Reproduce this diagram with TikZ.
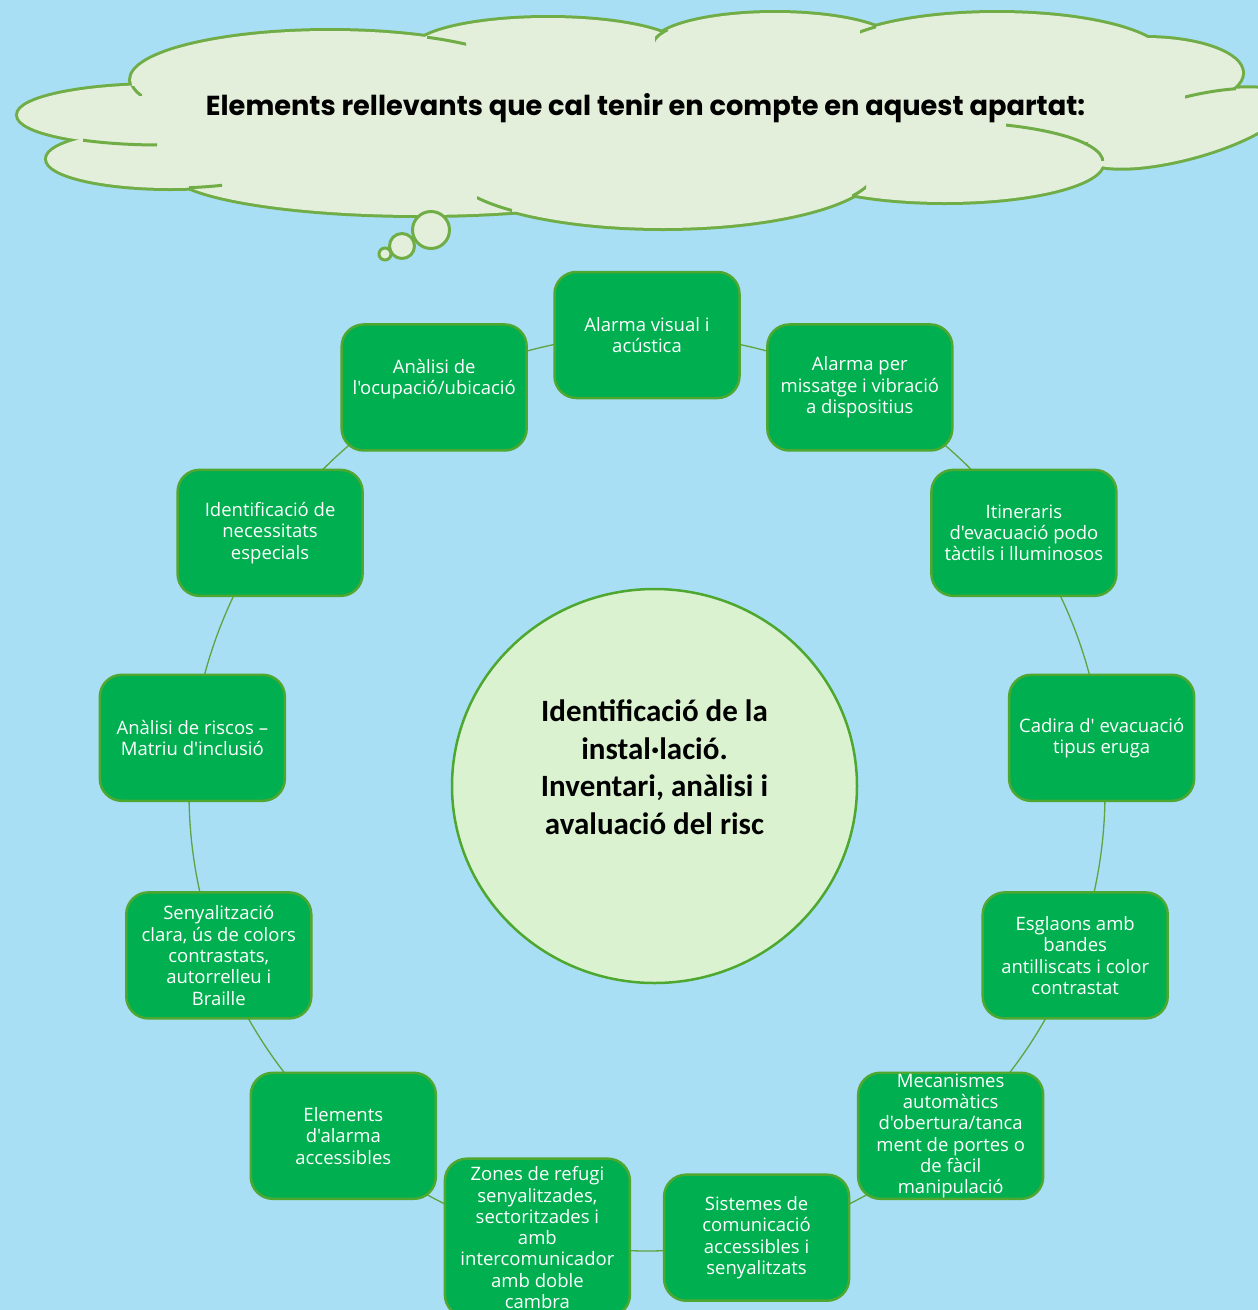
\documentclass[tikz,border=0pt]{standalone}
\usepackage{fontspec}
\usepackage{graphicx}
\newfontfamily\boxfont{Open Sans}
\newfontfamily\hubfont{Carlito}
\newfontfamily\titlefont{Poppins}
\usetikzlibrary{shapes.geometric}

\definecolor{skyblue}{RGB}{168,223,244}
\definecolor{boxgreen}{RGB}{0,176,80}
\definecolor{boxedge}{RGB}{78,167,46}
\definecolor{ringgreen}{RGB}{96,163,66}
\definecolor{hubfill}{RGB}{218,242,208}
\definecolor{cloudfill}{RGB}{227,239,218}
\definecolor{cloudedge}{RGB}{112,173,71}

\pgfdeclarelayer{sky}
\pgfdeclarelayer{arcs}
\pgfsetlayers{sky,arcs,main}

\tikzset{
  itembox/.style={draw=boxedge, line width=2.5pt, fill=boxgreen, rounded corners=22pt,
    minimum width=185pt, minimum height=126pt, inner xsep=3pt, inner ysep=0pt,
    align=center, text=white, font=\boxfont\fontsize{18.5}{21.3}\selectfont},
  ring/.style={draw=ringgreen, line width=1.3pt},
  hub/.style={ellipse, draw=boxedge, line width=2.5pt, fill=hubfill,
    minimum width=405pt, minimum height=394pt, inner sep=0pt, align=center,
    font=\hubfont\bfseries\fontsize{31}{37.7}\selectfont},
  cloudline/.style={draw=cloudedge, line width=3pt}
}

\def\lobes{330/80/199/49/0, 160/115/142/30/0, 170/159/123/29/0, 420/170/250/45/0,
  663/168/214/60/0, 945/162/158/40/0, 1185/128/105/30/15, 1145/73/97/35/0,
  997/58/168/45/0, 775/45/122/32/0, 548/50/135/32/0}

\begin{document}
\begin{tikzpicture}[x=1pt,y=1pt]
\useasboundingbox (0,0) rectangle (1258,-1310);
\begin{pgfonlayer}{sky}
\fill[skyblue] (0,0) rectangle (1258,-1310);
\end{pgfonlayer}

% cloud: outline twice as wide, then filled over
\foreach \cx/\cy/\rx/\ry/\rot in \lobes
  \draw[cloudedge, line width=6pt, rotate around={\rot:(\cx,-\cy)}] (\cx,-\cy) ellipse[x radius=\rx pt, y radius=\ry pt];
\foreach \cx/\cy/\rx/\ry/\rot in \lobes
  \fill[cloudfill, rotate around={\rot:(\cx,-\cy)}] (\cx,-\cy) ellipse[x radius=\rx pt, y radius=\ry pt];
\fill[cloudfill] (330,-80) -- (548,-50) -- (775,-45) -- (997,-58) -- (1145,-73) -- (1185,-128)
  -- (945,-162) -- (663,-168) -- (420,-170) -- (170,-159) -- (160,-115) -- cycle;
% inner strokes of the lobes
\foreach \cx/\cy/\rx/\ry/\rot/\xa/\ya/\xb/\yb in {330/80/199/49/0/427/30/466/50,
    330/80/199/49/0/128/86/142/95, 160/115/142/30/0/83/128/157/150,
    170/159/123/29/0/189/175/222/195, 663/168/214/60/0/477/190/512/215,
    663/168/214/60/0/852/183/866/196, 945/162/158/40/0/1006/118/1104/160,
    1185/128/105/30/15/1185/80/1236/110, 997/58/168/45/0/860/15/876/35,
    775/45/122/32/0/655/30/668/42}
{
  \begin{scope}
    \clip (\xa,-\ya) rectangle (\xb,-\yb);
    \draw[cloudline, rotate around={\rot:(\cx,-\cy)}] (\cx,-\cy) ellipse[x radius=\rx pt, y radius=\ry pt];
  \end{scope}
}
\draw[cloudline, fill=cloudfill] (431,-230) circle[radius=18.5pt];
\draw[cloudline, fill=cloudfill] (402,-246) circle[radius=12.5pt];
\draw[cloudline, fill=cloudfill] (385,-254) circle[radius=6pt];

\node[anchor=base] (title) at (645.5,-115)
  {\resizebox{879pt}{22pt}{\titlefont\bfseries Elements rellevants que cal tenir en compte en aquest apartat:}};

% central circle
\node[hub] (hub) at (654.5,-786) {Identificació de la\\instal·lació.\\Inventari, anàlisi i\\avaluació del risc\\\mbox{}};

% ring of boxes
\begin{scope}[shift={(647,-793)}]
\node[itembox] (alarmavisual) at ({90-0*360/13}:458) {Alarma visual i\\acústica};
\node[itembox] (missatge) at ({90-1*360/13}:458) {Alarma per\\missatge i vibració\\a dispositius};
\node[itembox] (itineraris) at ({90-2*360/13}:458) {Itineraris\\d'evacuació podo\\tàctils i lluminosos};
\node[itembox] (cadira) at ({90-3*360/13}:458) {Cadira d' evacuació\\tipus eruga};
\node[itembox] (esglaons) at ({90-4*360/13}:458) {Esglaons amb\\bandes\\antilliscats i color\\contrastat};
\node[itembox] (mecanismes) at ({90-5*360/13}:458) {Mecanismes\\automàtics\\d'obertura/tanca\\ment de portes o\\de fàcil\\manipulació};
\node[itembox] (sistemes) at ({90-6*360/13}:458) {Sistemes de\\comunicació\\accessibles i\\senyalitzats};
\node[itembox, minimum height=158pt] (zones) at ({90-7*360/13}:458) {Zones de refugi\\senyalitzades,\\sectoritzades i\\amb\\intercomunicador\\amb doble\\cambra};
\node[itembox] (elements) at ({90-8*360/13}:458) {Elements\\d'alarma\\accessibles};
\node[itembox] (senyal) at ({90-9*360/13}:458) {Senyalització\\clara, ús de colors\\contrastats,\\autorrelleu i\\Braille};
\node[itembox] (riscos) at ({90-10*360/13}:458) {Anàlisi de riscos –\\Matriu d'inclusió};
\node[itembox] (necessitats) at ({90-11*360/13}:458) {Identificació de\\necessitats\\especials};
\node[itembox] (ocupacio) at ({90-12*360/13}:458) {Anàlisi de\\l'ocupació/ubicació\\\mbox{}};
\end{scope}

% ring arcs from each box centre to the next one, kept under the boxes
\begin{pgfonlayer}{arcs}
\foreach \a [count=\k from 0, evaluate=\k as \sa using {90-\k*360/13},
    evaluate=\k as \ea using {90-(\k+1)*360/13}] in {alarmavisual, missatge, itineraris,
    cadira, esglaons, mecanismes, sistemes, zones, elements, senyal, riscos, necessitats, ocupacio}
  \draw[ring] (\a.center) arc[start angle=\sa, end angle=\ea, radius=458pt];
\end{pgfonlayer}
\end{tikzpicture}
\end{document}
